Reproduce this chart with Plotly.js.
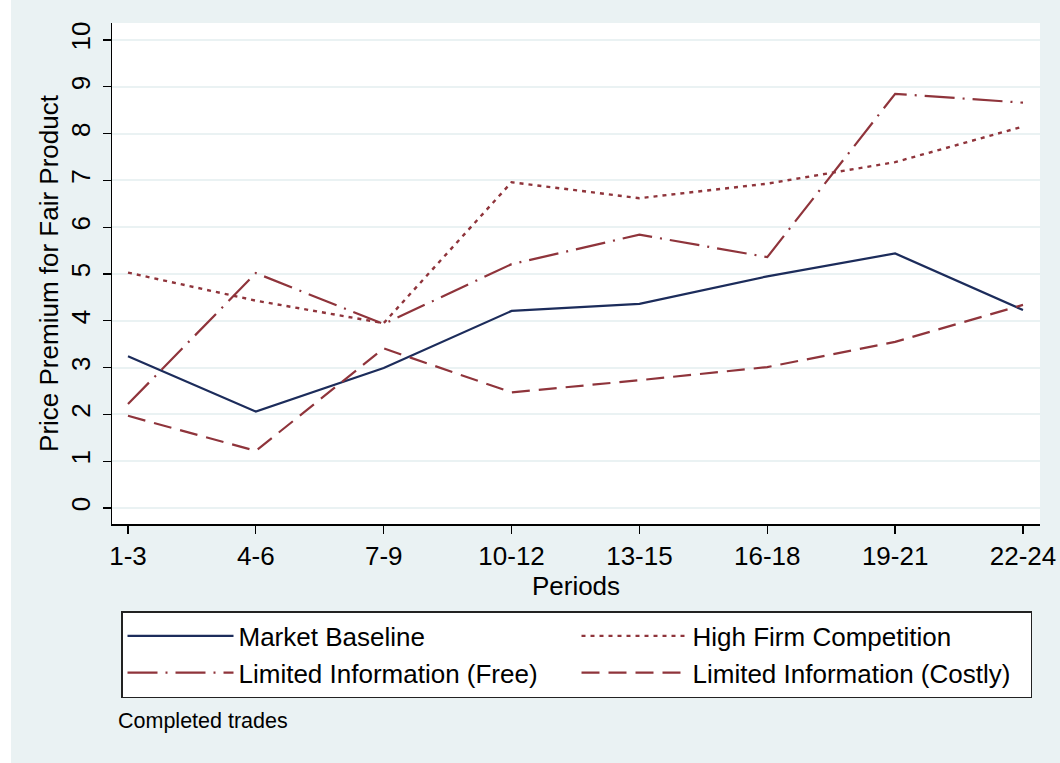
<!DOCTYPE html>
<html>
<head>
<meta charset="utf-8">
<script src="https://cdn.plot.ly/plotly-3.0.1.min.js"></script>
<style>html,body{margin:0;padding:0;background:#fff;}#chart{width:1060px;height:763px;}</style>
</head>
<body>
<div id="chart"></div>
<script>
const periods = ["1-3","4-6","7-9","10-12","13-15","16-18","19-21","22-24"];
const marketBaseline = [3.24, 2.06, 2.99, 4.21, 4.36, 4.95, 5.44, 4.23];
const highFirmCompetition = [5.03, 4.43, 3.95, 6.96, 6.62, 6.93, 7.39, 8.15];
const limitedInfoFree = [2.22, 5.02, 3.93, 5.21, 5.84, 5.36, 8.85, 8.66];
const limitedInfoCostly = [1.97, 1.22, 3.41, 2.47, 2.73, 3.01, 3.55, 4.34];
const yTicks = [0,1,2,3,4,5,6,7,8,9,10];

const navy = '#1c2c5b';
const maroon = '#8f343b';
const FONT = 'Liberation Sans, Arial, Helvetica, sans-serif';
const FS = 26;

const traces = [
  {x: periods, y: marketBaseline, name: 'Market Baseline', mode: 'lines',
   line: {color: navy, width: 2.2}},
  {x: periods, y: highFirmCompetition, name: 'High Firm Competition', mode: 'lines',
   line: {color: maroon, width: 2.4, dash: '4px,5px'}},
  {x: periods, y: limitedInfoFree, name: 'Limited Information (Free)', mode: 'lines',
   line: {color: maroon, width: 2.2, dash: '30px,8px,2px,8px'}},
  {x: periods, y: limitedInfoCostly, name: 'Limited Information (Costly)', mode: 'lines',
   line: {color: maroon, width: 2.2, dash: '18px,9px'}}
];

const layout = {
  width: 1060, height: 763,
  paper_bgcolor: '#eaf2f3',
  plot_bgcolor: '#ffffff',
  margin: {l: 112, r: 20, t: 23, b: 239, pad: 0},
  font: {family: FONT, color: '#000', size: FS},
  showlegend: true,
  legend: {
    orientation: 'h',
    xref: 'container', yref: 'container',
    x: 121/1060, xanchor: 'left',
    y: 1 - 611/763, yanchor: 'top',
    bgcolor: '#ffffff', bordercolor: '#222', borderwidth: 1.5,
    font: {family: FONT, size: FS, color: '#000'},
    entrywidth: 333, entrywidthmode: 'pixels',
    itemwidth: 106,
    traceorder: 'normal',
    tracegroupgap: 0
  },
  xaxis: {
    type: 'category',
    range: [-0.125, 7.133],
    showline: true, linecolor: '#000', linewidth: 1.5,
    ticks: 'outside', ticklen: 8, tickwidth: 1.3, tickcolor: '#000',
    showgrid: false, zeroline: false,
    tickfont: {family: FONT, size: FS, color: '#000'},
    ticklabelstandoff: 0,
    title: {text: 'Periods', font: {family: FONT, size: FS, color: '#000'}, standoff: 0}
  },
  yaxis: {
    range: [-0.342, 10.363],
    tickvals: yTicks, ticktext: yTicks.map(String),
    tickangle: -90,
    showline: true, linecolor: '#000', linewidth: 1.5,
    ticks: 'outside', ticklen: 8, tickwidth: 1.3, tickcolor: '#000',
    showgrid: true, gridcolor: '#eaf2f3', gridwidth: 2,
    zeroline: false,
    tickfont: {family: FONT, size: FS, color: '#000'},
    ticklabelstandoff: 2,
    title: {text: 'Price Premium for Fair Product', font: {family: FONT, size: FS, color: '#000'}, standoff: 0}
  },
  annotations: [
    {xref: 'paper', yref: 'paper', x: (116-112)/928, y: (524-721)/501,
     xanchor: 'left', yanchor: 'middle', showarrow: false,
     text: 'Completed trades', font: {family: FONT, size: 21.5, color: '#000'}}
  ],
  shapes: [
    {type: 'rect', xref: 'paper', yref: 'paper', layer: 'below',
     x0: -112/928, x1: (11-112)/928, y0: -239/501, y1: 1 + 23/501,
     fillcolor: '#ffffff', line: {width: 0}}
  ]
};

Plotly.newPlot('chart', traces, layout, {displayModeBar: false, staticPlot: true});
</script>
</body>
</html>
